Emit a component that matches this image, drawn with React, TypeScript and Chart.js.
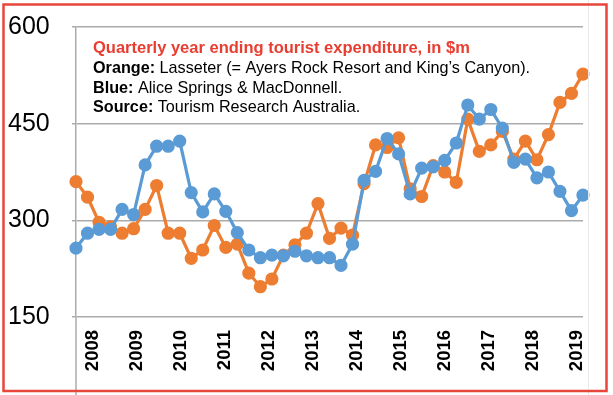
import React, { useEffect, useRef } from "react";
import { Chart, registerables } from "chart.js";

Chart.register(...registerables);

const quarters = [
  "2007 Q4",
  "2008 Q1", "2008 Q2", "2008 Q3", "2008 Q4",
  "2009 Q1", "2009 Q2", "2009 Q3", "2009 Q4",
  "2010 Q1", "2010 Q2", "2010 Q3", "2010 Q4",
  "2011 Q1", "2011 Q2", "2011 Q3", "2011 Q4",
  "2012 Q1", "2012 Q2", "2012 Q3", "2012 Q4",
  "2013 Q1", "2013 Q2", "2013 Q3", "2013 Q4",
  "2014 Q1", "2014 Q2", "2014 Q3", "2014 Q4",
  "2015 Q1", "2015 Q2", "2015 Q3", "2015 Q4",
  "2016 Q1", "2016 Q2", "2016 Q3", "2016 Q4",
  "2017 Q1", "2017 Q2", "2017 Q3", "2017 Q4",
  "2018 Q1", "2018 Q2", "2018 Q3", "2018 Q4",
];

// Blue: Alice Springs & MacDonnell
const aliceSprings = [
  257, 280, 286, 286, 317, 309, 386, 415, 415, 423, 343, 313,
  341, 314, 281, 254, 242, 246, 245, 252, 245, 242, 242,
  230, 263, 362, 376, 427, 403, 341, 381, 383, 393, 420, 479,
  457, 472, 443, 390, 395, 366, 375, 345, 315, 339,
];

// Orange: Lasseter
const lasseter = [
  360, 336, 297, 290, 280, 287, 317, 354, 280, 280, 241, 254,
  292, 258, 263, 218, 197, 209, 246, 262, 280, 326, 272,
  288, 277, 357, 417, 413, 428, 349, 337, 385, 375, 359, 457,
  407, 417, 438, 395, 423, 394, 433, 483, 497, 527,
];

const yearLabels = [2008, 2009, 2010, 2011, 2012, 2013, 2014, 2015, 2016, 2017, 2018, 2019];
const yTicks = [150, 300, 450, 600];

const titleText = "Quarterly year ending tourist expenditure, in $m";
const noteBold = ["Orange:", "Blue:", "Source:"];
const noteRegular = [
  " Lasseter (= Ayers Rock Resort and King\u2019s Canyon).",
  " Alice Springs & MacDonnell.",
  " Tourism Research Australia.",
];

const FONT = '"Liberation Sans", Arial, Helvetica, sans-serif';
const GRID = "#ababab";

const overlayPlugin = {
  id: "overlay",
  beforeDraw(chart: any) {
    const ctx = chart.ctx;
    ctx.save();
    ctx.fillStyle = "#ffffff";
    ctx.fillRect(0, 0, chart.width, chart.height);
    ctx.restore();
  },
  afterDraw(chart: any) {
    const { ctx, chartArea } = chart;
    ctx.save();
    // y axis line continues below the plot
    ctx.strokeStyle = GRID;
    ctx.lineWidth = 1.5;
    ctx.beginPath();
    ctx.moveTo(chartArea.left, chartArea.bottom);
    ctx.lineTo(chartArea.left, chart.height);
    ctx.stroke();
    // faint edge of the embedded picture
    ctx.strokeStyle = "#e8e8e8";
    ctx.lineWidth = 1;
    ctx.beginPath();
    ctx.moveTo(588.5, 0);
    ctx.lineTo(588.5, chart.height);
    ctx.stroke();

    // annotation text
    const x = chartArea.left + 17;
    ctx.textAlign = "left";
    ctx.textBaseline = "alphabetic";
    ctx.font = `bold 16.5px ${FONT}`;
    ctx.fillStyle = "#ea3d31";
    ctx.fillText(titleText, x, 53);
    const baselines = [73, 92.5, 112];
    for (let i = 0; i < noteBold.length; i++) {
      ctx.fillStyle = "#000000";
      ctx.font = `bold 16.2px ${FONT}`;
      ctx.fillText(noteBold[i], x, baselines[i]);
      const w = ctx.measureText(noteBold[i]).width;
      ctx.font = `16.2px ${FONT}`;
      ctx.fillText(noteRegular[i], x + w, baselines[i]);
    }

    // red frame
    ctx.strokeStyle = "#e8463b";
    ctx.lineWidth = 2.5;
    ctx.strokeRect(3.5, 4.5, 603, 386.5);
    ctx.restore();
  },
};

export default function App() {
  const ref = useRef<HTMLCanvasElement | null>(null);

  useEffect(() => {
    if (!ref.current) return;
    const chart = new Chart(ref.current, {
      type: "line",
      data: {
        labels: quarters,
        datasets: [
          {
            label: "Alice Springs & MacDonnell",
            data: aliceSprings,
            borderColor: "#5b9bd5",
            backgroundColor: "#5b9bd5",
            pointBackgroundColor: "#5b9bd5",
            pointBorderColor: "#5b9bd5",
            borderWidth: 3.2,
            pointRadius: 5,
            tension: 0,
            xAxisID: "x",
            yAxisID: "y",
          },
          {
            label: "Lasseter",
            data: lasseter,
            borderColor: "#ed7d31",
            backgroundColor: "#ed7d31",
            pointBackgroundColor: "#ed7d31",
            pointBorderColor: "#ed7d31",
            borderWidth: 3.2,
            pointRadius: 5,
            tension: 0,
            xAxisID: "x",
            yAxisID: "y",
          },
        ],
      },
      options: {
        animation: false,
        responsive: false,
        devicePixelRatio: 1,
        layout: { padding: { left: 8, top: 27, right: 30, bottom: 0 } },
        plugins: { legend: { display: false }, tooltip: { enabled: false }, title: { display: false } },
        scales: {
          x: { type: "category", display: false, offset: false },
          x2: {
            type: "linear",
            position: "bottom",
            min: 2007.613,
            max: 2019.148,
            grid: { display: false, drawTicks: false },
            border: { display: false },
            afterBuildTicks: (s: any) => {
              s.ticks = yearLabels.map((v) => ({ value: v }));
            },
            afterFit: (s: any) => {
              s.height = 78;
            },
            ticks: {
              autoSkip: false,
              minRotation: 90,
              maxRotation: 90,
              padding: 13,
              color: "#000000",
              font: { family: FONT, size: 18.5, weight: "bold" },
              callback: (v: any) => String(v),
            },
          },
          y: {
            type: "linear",
            min: 150,
            max: 600,
            afterBuildTicks: (s: any) => {
              s.ticks = yTicks.map((v) => ({ value: v }));
            },
            afterFit: (s: any) => {
              s.width = 68;
            },
            grid: { color: GRID, lineWidth: 1.5, tickLength: 4 },
            border: { color: GRID, width: 1.5 },
            ticks: {
              crossAlign: "far",
              padding: 0,
              color: "#000000",
              font: { family: FONT, size: 25 },
              callback: (v: any) => String(v),
            },
          },
        },
      },
      plugins: [overlayPlugin],
    } as any);
    return () => chart.destroy();
  }, []);

  return (
    <div style={{ position: "fixed", left: 0, top: 0, width: 613, height: 395, background: "#fff" }}>
      <canvas ref={ref} width={613} height={395} style={{ display: "block", width: 613, height: 395 }} />
    </div>
  );
}
